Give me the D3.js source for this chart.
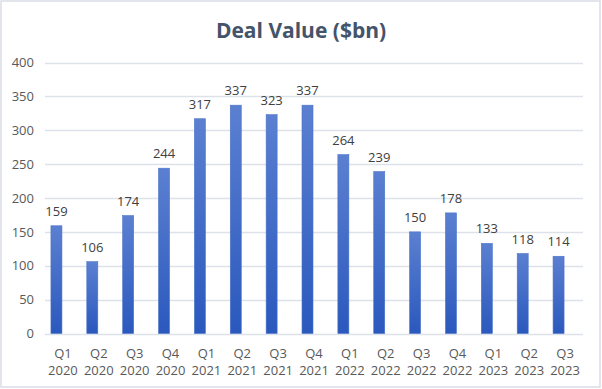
<!DOCTYPE html>
<html>
<head>
<meta charset="utf-8">
<script src="https://cdn.jsdelivr.net/npm/d3@7"></script>
<style>
  html, body { margin: 0; padding: 0; background: #fff; }
  svg { display: block; font-family: "Open Sans", "Noto Sans", sans-serif; }
</style>
</head>
<body>
<svg id="chart"></svg>
<script>
const quarters = ["Q1", "Q2", "Q3", "Q4", "Q1", "Q2", "Q3", "Q4", "Q1", "Q2", "Q3", "Q4", "Q1", "Q2", "Q3"];
const years = ["2020", "2020", "2020", "2020", "2021", "2021", "2021", "2021", "2022", "2022", "2022", "2022", "2023", "2023", "2023"];
const dealValues = [159, 106, 174, 244, 317, 337, 323, 337, 264, 239, 150, 178, 133, 118, 114];
const yTicks = [0, 50, 100, 150, 200, 250, 300, 350, 400];

const w = 602;
const h = 389;

const data = dealValues.map((v, i) => ({ key: i, q: quarters[i], y: years[i], v: v }));

const svg = d3.select("#chart").attr("width", w).attr("height", h);

// outer chart border
svg.append("rect")
  .attr("x", 1).attr("y", 1)
  .attr("width", w - 3).attr("height", h - 3)
  .attr("fill", "#fff")
  .attr("stroke", "#d9dee6")
  .attr("stroke-width", 1.5);

const defs = svg.append("defs");
const grad = defs.append("linearGradient")
  .attr("id", "barGrad")
  .attr("x1", 0).attr("y1", 0).attr("x2", 0).attr("y2", 1);
grad.append("stop").attr("offset", "0%").attr("stop-color", "#5b80d1");
grad.append("stop").attr("offset", "100%").attr("stop-color", "#2a58bd");

svg.append("text")
  .attr("x", w / 2)
  .attr("y", 38)
  .attr("text-anchor", "middle")
  .attr("font-size", 21)
  .attr("font-weight", "bold")
  .attr("fill", "#44546a")
  .text("Deal Value ($bn)");

const xScale = d3.scaleBand()
  .domain(data.map((d) => d.key))
  .range([45, 583]);

const yScale = d3.scaleLinear()
  .domain([0, 400])
  .range([333.5, 62.5]);

// gridlines
svg.append("g")
  .selectAll("line")
  .data(yTicks)
  .enter()
  .append("line")
  .attr("x1", 45)
  .attr("x2", 583)
  .attr("y1", (d) => Math.round(yScale(d)) + 0.5)
  .attr("y2", (d) => Math.round(yScale(d)) + 0.5)
  .attr("stroke", "#dde2ea")
  .attr("stroke-width", 1.3);

const yAxis = d3.axisLeft(yScale).tickValues(yTicks).tickSize(0).tickPadding(0);
const yg = svg.append("g").attr("transform", "translate(34, 0)").call(yAxis);
yg.select(".domain").remove();
yg.selectAll("text")
  .attr("font-size", 13)
  .attr("font-family", "Open Sans, sans-serif")
  .attr("fill", "#595959");

// bars sit a little left of their category centre, as in the reference
const barW = 11;
const shift = -6.5;
const barX = (d) => xScale(d.key) + xScale.bandwidth() / 2 + shift - barW / 2;

svg.append("g")
  .selectAll("rect")
  .data(data)
  .enter()
  .append("rect")
  .attr("x", barX)
  .attr("y", (d) => yScale(d.v))
  .attr("width", barW)
  .attr("height", (d) => yScale(0) - yScale(d.v))
  .attr("fill", "url(#barGrad)")
  .attr("stroke", "#4a72c9")
  .attr("stroke-width", 0.6);

svg.append("g")
  .selectAll("text")
  .data(data)
  .enter()
  .append("text")
  .attr("x", (d) => barX(d) + barW / 2)
  .attr("y", (d) => yScale(d.v) - 10)
  .attr("text-anchor", "middle")
  .attr("font-size", 13)
  .attr("fill", "#404040")
  .text((d) => d.v);

const xAxis = d3.axisBottom(xScale).tickSize(0).tickFormat(() => "");
const xg = svg.append("g").attr("transform", "translate(0, 333.5)").call(xAxis);
xg.select(".domain").remove();

const labels = svg.append("g")
  .selectAll("text")
  .data(data)
  .enter()
  .append("text")
  .attr("text-anchor", "middle")
  .attr("font-size", 13)
  .attr("fill", "#595959");
labels.append("tspan")
  .attr("x", (d) => xScale(d.key) + xScale.bandwidth() / 2)
  .attr("y", 358)
  .text((d) => d.q);
labels.append("tspan")
  .attr("x", (d) => xScale(d.key) + xScale.bandwidth() / 2)
  .attr("y", 375)
  .text((d) => d.y);
</script>
</body>
</html>
